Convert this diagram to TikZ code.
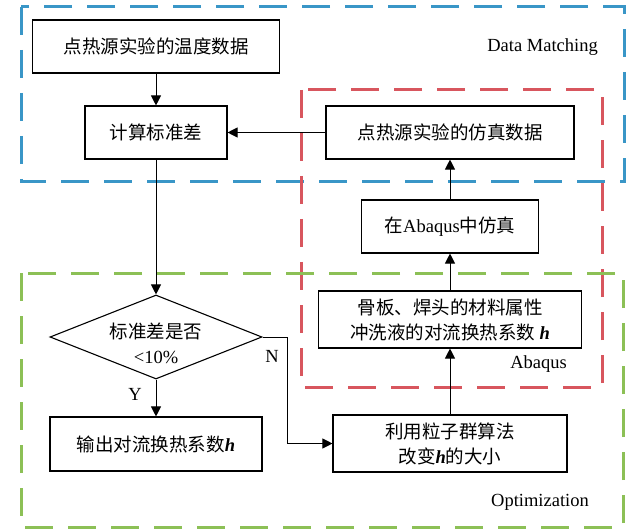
\documentclass[tikz,border=0pt]{standalone}
\usepackage{fontspec}
\setmainfont{Liberation Serif}
\newfontfamily\cjk{Noto Sans CJK SC}
\usetikzlibrary{arrows.meta,shapes.geometric}
\definecolor{grpblue}{RGB}{57,150,199}
\definecolor{grpred}{RGB}{216,86,94}
\definecolor{grpgreen}{RGB}{140,192,86}
\newcommand{\hh}{\textbf{\textit{h}}}
\begin{document}
\begin{tikzpicture}[x=1pt,y=-1pt,
  font=\fontsize{18.5}{25}\selectfont,
  stepbox/.style={draw, line width=1.1pt, inner sep=0pt, align=center},
  grp/.style={line width=3pt, dash pattern=on 28pt off 15pt},
  conn/.style={line width=1pt, -{Triangle[length=10pt,width=10pt]}},
  lbl/.style={inner sep=0pt, font=\fontsize{18.5}{20}\selectfont}]
\useasboundingbox (0,0) rectangle (634,529);
% group frames
\draw[grp, grpblue] (21,7) rectangle (624,182);
\draw[grp, grpred] (301,90) rectangle (602,387);
\draw[grp, grpgreen] (21,273) rectangle (623,527);
\node[lbl, anchor=east] (tdm) at (598,47) {Data Matching};
\node[lbl, anchor=east] (tab) at (567,364) {Abaqus};
\node[lbl, anchor=east] (top) at (589,502) {Optimization};
% boxes
\node[stepbox, minimum width=247pt, minimum height=53pt] (b1) at (156,46.5) {\cjk 点热源实验的温度数据};
\node[stepbox, minimum width=142pt, minimum height=53pt] (b2) at (156,132.5) {\cjk 计算标准差};
\node[stepbox, minimum width=248pt, minimum height=53pt] (b3) at (450,132.5) {\cjk 点热源实验的仿真数据};
\node[stepbox, minimum width=177pt, minimum height=53pt] (b4) at (450,226.5) {{\cjk 在}Abaqus{\cjk 中仿真}};
\node[stepbox, minimum width=263pt, minimum height=57pt] (b5) at (450,319.5) {{\cjk 骨板、焊头的材料属性}\\{\cjk 冲洗液的对流换热系数} \hh};
\node[draw, line width=1.1pt, shape=diamond, inner sep=0pt, aspect=2.52, minimum width=212pt, minimum height=84pt] (dia) at (156,337) {};
\node[inner sep=0pt, align=center] (diat) at (156,343) {{\cjk 标准差是否}\\<10\%};
\node[stepbox, minimum width=212pt, minimum height=54pt] (out) at (156,444) {{\cjk 输出对流换热系数}\hh};
\node[stepbox, minimum width=234pt, minimum height=57pt] (pso) at (450,443.5) {{\cjk 利用粒子群算法}\\{\cjk 改变}\hh{\cjk 的大小}};
% connectors
\draw[conn] (b1.south) -- (b2.north);
\draw[conn] (b3.west) -- (b2.east);
\draw[conn] (b2.south) -- (dia.north);
\draw[conn] (dia.south) -- (out.north);
\coordinate (knee) at (287,337);
\draw[conn] (dia.east) -- (knee) |- (pso.west);
\draw[conn] (pso.north) -- (b5.south);
\draw[conn] (b5.north) -- (b4.south);
\draw[conn] (b4.north) -- (b3.south);
\node[lbl] (ly) at (135,394) {Y};
\node[lbl] (ln) at (272,356) {N};
\end{tikzpicture}
\end{document}
